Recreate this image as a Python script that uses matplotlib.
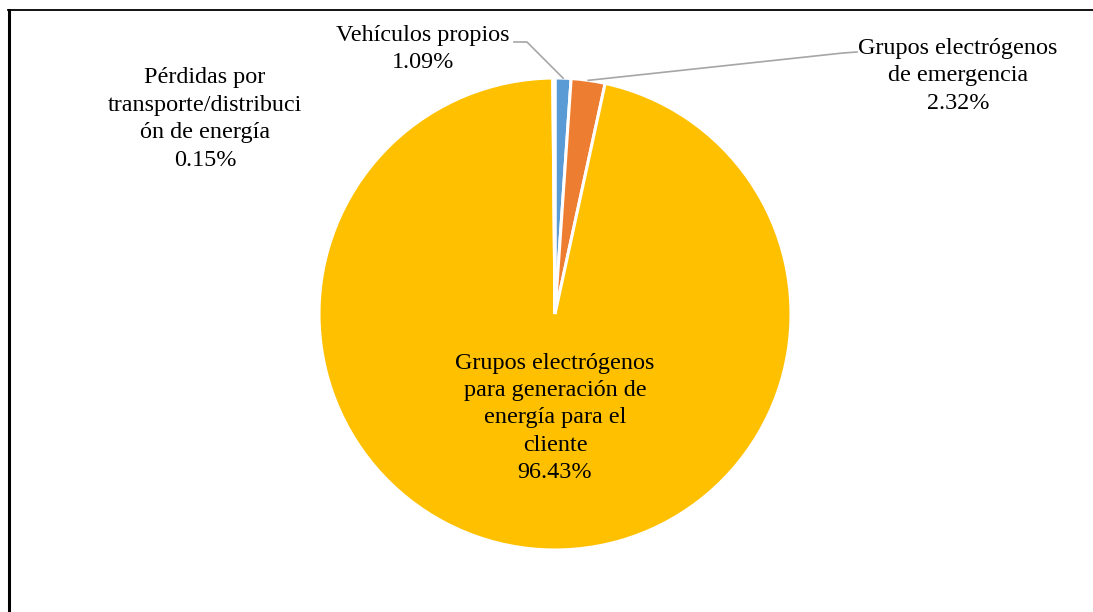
import numpy as np
import matplotlib
matplotlib.use("Agg")
import matplotlib.pyplot as plt
from matplotlib.lines import Line2D

categories = ["Vehículos propios",
              "Grupos electrógenos\nde emergencia",
              "Grupos electrógenos\npara generación de\nenergía para el\ncliente",
              "Pérdidas por\ntransporte/distribuci\nón de energía"]
values = [1.09, 2.32, 96.43, 0.15]
colors = ["#5B9BD5", "#ED7D31", "#FFC000", "#A5A5A5"]

W, H = 1093, 612
fig = plt.figure(figsize=(W / 100, H / 100), dpi=100)
plt.rcParams['font.family'] = ['Liberation Serif', 'DejaVu Serif']

cx, cy, R = 555, 314, 236
ax = fig.add_axes([(cx - R) / W, (H - cy - R) / H, 2 * R / W, 2 * R / H])

wedges, _ = ax.pie(values, colors=colors, startangle=90, counterclock=False,
                   radius=1.0, wedgeprops=dict(edgecolor='white', linewidth=2.2))
ax.set_xlim(-1, 1)
ax.set_ylim(-1, 1)
ax.set_aspect('equal')
ax.axis('off')

def px2fig(px, py):
    return px / W, 1 - py / H

fs = 17.4
# label positions (pixel centers of text blocks in the reference)
label_pos = [(423, 49), (958, 76), (555, 418), (205, 119)]
for i, (cat, v) in enumerate(zip(categories, values)):
    x, y = px2fig(*label_pos[i])
    fig.text(x, y, f"{cat}\n{v:.2f}%", ha='center', va='center',
             fontsize=fs, linespacing=1.40, color='black')

def wedge_edge_point(w):
    th = np.deg2rad((w.theta1 + w.theta2) / 2)
    p = ax.transData.transform((np.cos(th), np.sin(th)))
    return fig.transFigure.inverted().transform(p)

# leader lines
fig.canvas.draw()
a0 = wedge_edge_point(wedges[0])
e0 = px2fig(527, 42)
s0 = px2fig(514, 42)
fig.add_artist(Line2D([a0[0], e0[0], s0[0]], [a0[1], e0[1], s0[1]],
                      transform=fig.transFigure, color='#A6A6A6', lw=1.2))
a1 = wedge_edge_point(wedges[1])
e1 = px2fig(843, 53)
s1 = px2fig(857, 52)
fig.add_artist(Line2D([a1[0], e1[0], s1[0]], [a1[1], e1[1], s1[1]],
                      transform=fig.transFigure, color='#A6A6A6', lw=1.2))

# frame (left and top)
fig.add_artist(Line2D([9 / W, 9 / W], [0, 1 - 10 / H], transform=fig.transFigure,
                      color='black', lw=2.2))
fig.add_artist(Line2D([8 / W, 1], [1 - 10 / H, 1 - 10 / H], transform=fig.transFigure,
                      color='black', lw=1.3))

fig.savefig("out.png", dpi=100)
